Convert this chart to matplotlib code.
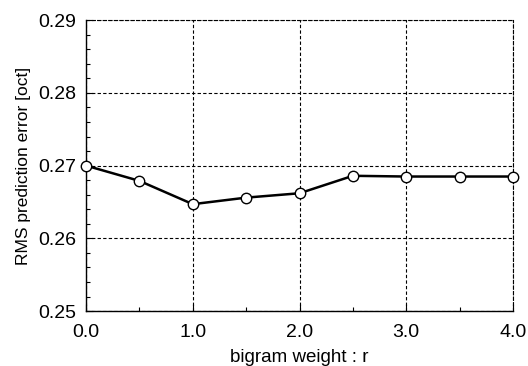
import matplotlib
matplotlib.use("Agg")
import matplotlib.pyplot as plt
from matplotlib.ticker import MultipleLocator

plt.rcParams['font.family'] = ['Liberation Sans', 'DejaVu Sans']

r = [0.0, 0.5, 1.0, 1.5, 2.0, 2.5, 3.0, 3.5, 4.0]
rms_error = [0.2700, 0.2679, 0.2647, 0.2656, 0.2662, 0.2686, 0.2685, 0.2685, 0.2685]
xticks = [0.0, 1.0, 2.0, 3.0, 4.0]
xtick_labels = ["0.0", "1.0", "2.0", "3.0", "4.0"]
yticks = [0.25, 0.26, 0.27, 0.28, 0.29]
ytick_labels = ["0.25", "0.26", "0.27", "0.28", "0.29"]

fig = plt.figure(figsize=(5.28, 3.66), dpi=100)
ax = fig.add_axes([0.163, 0.150, 0.8086, 0.795])

ax.plot(r, rms_error, color='black', linewidth=1.8, marker='o', markersize=7.5,
        markerfacecolor='white', markeredgecolor='black', markeredgewidth=1.0,
        clip_on=False, zorder=5)

ax.set_xlim(0, 4)
ax.set_ylim(0.25, 0.29)
ax.set_xticks(xticks)
ax.set_xticklabels(xtick_labels)
ax.set_yticks(yticks)
ax.set_yticklabels(ytick_labels)
ax.xaxis.set_minor_locator(MultipleLocator(0.5))
ax.yaxis.set_minor_locator(MultipleLocator(0.002))

ax.grid(True, which='major', color='black', linestyle=(0, (3, 2)), linewidth=0.8)
ax.tick_params(which='both', direction='in', top=False, right=False, labelsize=14,
               color='black', width=0.8)
ax.tick_params(which='major', length=5)
ax.tick_params(axis='y', which='major', pad=7)
ax.tick_params(axis='x', which='major', pad=9)
ax.tick_params(which='minor', length=3)

for s in ['top', 'right']:
    ax.spines[s].set_linestyle((0, (3, 2)))
    ax.spines[s].set_linewidth(0.8)
for s in ['left', 'bottom']:
    ax.spines[s].set_linewidth(1.0)

ax.set_xlabel("bigram weight : r", fontsize=13.5, labelpad=6)
ax.set_ylabel("RMS prediction error [oct]", fontsize=12.5, labelpad=5)

fig.savefig("out.png", dpi=100)
